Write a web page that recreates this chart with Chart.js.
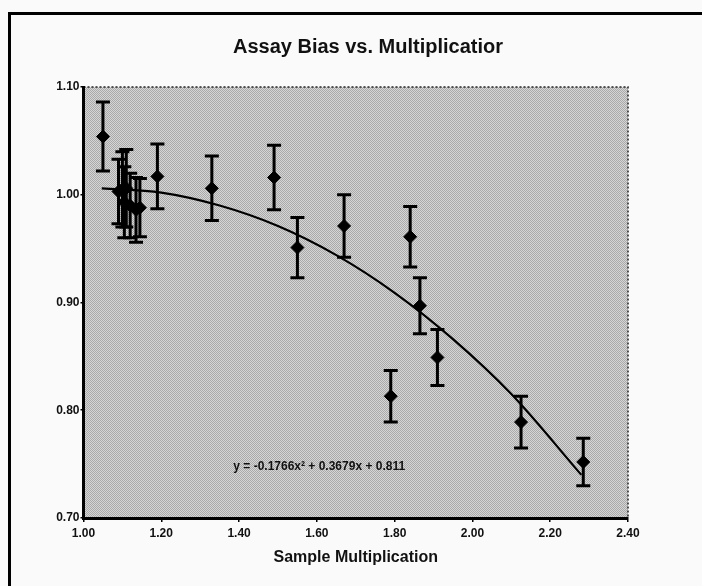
<!DOCTYPE html>
<html>
<head>
<meta charset="utf-8">
<script src="https://cdn.jsdelivr.net/npm/chart.js@4/dist/chart.umd.min.js"></script>
<style>
  body { margin:0; background:#fafafa; }
  #c { display:block; }
</style>
</head>
<body>
<canvas id="c" width="702" height="586"></canvas>
<script>
// measured points: sample multiplication, assay bias, +/- error
const multX = [1.05, 1.09, 1.10, 1.105, 1.11, 1.12, 1.135, 1.145, 1.19, 1.33, 1.49, 1.55, 1.67, 1.79, 1.84, 1.865, 1.91, 2.125, 2.285];
const biasY = [1.054, 1.003, 1.005, 0.993, 1.006, 0.990, 0.986, 0.988, 1.017, 1.006, 1.016, 0.951, 0.971, 0.813, 0.961, 0.897, 0.849, 0.789, 0.752];
const errY  = [0.032, 0.030, 0.035, 0.033, 0.036, 0.030, 0.030, 0.027, 0.030, 0.030, 0.030, 0.028, 0.029, 0.024, 0.028, 0.026, 0.026, 0.024, 0.022];

// trend line
const fitX = [1.047, 1.20, 1.35, 1.50, 1.65, 1.80, 1.95, 2.10, 2.28];
const fitY = [1.006, 1.002, 0.990, 0.971, 0.944, 0.909, 0.866, 0.815, 0.740];

const titleText = 'Assay Bias vs. Multiplicatior';
const eqText = 'y = -0.1766x\u00b2 + 0.3679x + 0.811';
const EQ_AT = {x: 1.606, y: 0.748};

const FONT = '"Liberation Sans", Arial, sans-serif';

function stipple(ctx){
  const p = document.createElement('canvas'); p.width = 2; p.height = 2;
  const g = p.getContext('2d');
  g.fillStyle = '#d6d6d6'; g.fillRect(0,0,2,2);
  g.fillStyle = '#a9a9a9'; g.fillRect(0,0,1,1); g.fillRect(1,1,1,1);
  return ctx.createPattern(p, 'repeat');
}

const frame = {
  id:'frame',
  beforeDraw(chart){
    const ctx = chart.ctx, a = chart.chartArea;
    ctx.save();
    ctx.fillStyle = '#fafafa';
    ctx.fillRect(0,0,chart.width,chart.height);
    // outer box
    ctx.strokeStyle = '#000'; ctx.lineWidth = 3;
    ctx.strokeRect(9.5, 13.5, 720, 600);
    // plot fill
    ctx.fillStyle = stipple(ctx);
    ctx.fillRect(a.left, a.top, a.right-a.left, a.bottom-a.top);
    // dotted top/right edges
    ctx.strokeStyle = '#222'; ctx.lineWidth = 1.5; ctx.setLineDash([2,2]);
    ctx.beginPath();
    ctx.moveTo(a.left, a.top); ctx.lineTo(a.right, a.top); ctx.lineTo(a.right, a.bottom);
    ctx.stroke();
    ctx.restore();
  },
  beforeDatasetsDraw(chart){
    const ctx = chart.ctx, xs = chart.scales.x, ys = chart.scales.y;
    ctx.save();
    ctx.strokeStyle = '#000'; ctx.lineWidth = 3;
    multX.forEach((mx,i)=>{
      const px = xs.getPixelForValue(mx);
      const top = ys.getPixelForValue(biasY[i]+errY[i]);
      const bot = ys.getPixelForValue(biasY[i]-errY[i]);
      ctx.beginPath();
      ctx.moveTo(px, top); ctx.lineTo(px, bot);
      ctx.moveTo(px-7, top); ctx.lineTo(px+7, top);
      ctx.moveTo(px-7, bot); ctx.lineTo(px+7, bot);
      ctx.stroke();
    });
    ctx.restore();
  },
  afterDraw(chart){
    const ctx = chart.ctx, xs = chart.scales.x, ys = chart.scales.y;
    ctx.save();
    ctx.fillStyle = '#111';
    ctx.textAlign = 'center'; ctx.textBaseline = 'middle';
    ctx.font = 'bold 12px ' + FONT;
    ctx.fillText(eqText, xs.getPixelForValue(EQ_AT.x), ys.getPixelForValue(EQ_AT.y));
    // chart title, sits a little right of the plot centre as in the scan
    ctx.font = 'bold 20px ' + FONT;
    ctx.fillText(titleText, 368, 47);
    ctx.restore();
  }
};

new Chart(document.getElementById('c'), {
  type:'scatter',
  data:{
    datasets:[
      {
        label:'Bias',
        data: multX.map((x,i)=>({x, y:biasY[i]})),
        pointStyle:'rectRot', pointRadius:6.5, pointHoverRadius:6.5,
        backgroundColor:'#000', borderColor:'#000', borderWidth:1,
        order:0
      },
      {
        label:'Fit',
        type:'line',
        data: fitX.map((x,i)=>({x, y:fitY[i]})),
        borderColor:'#000', borderWidth:2.2, pointRadius:0,
        cubicInterpolationMode:'monotone', fill:false,
        order:1
      }
    ]
  },
  options:{
    responsive:false,
    animation:false,
    devicePixelRatio:1,
    layout:{ padding:{ left:0, right:74, top:87, bottom:0 } },
    plugins:{
      legend:{ display:false },
      tooltip:{ enabled:false },
      title:{ display:false }
    },
    scales:{
      x:{
        type:'linear', min:1.0, max:2.4,
        afterFit(s){ s.height = 68; },
        ticks:{ stepSize:0.2, color:'#111', padding:4,
          font:{ family:FONT, size:12, weight:'bold' },
          callback:v=>v.toFixed(2) },
        grid:{ drawOnChartArea:false, color:'#000', lineWidth:1.5, tickLength:4 },
        border:{ color:'#000', width:3 },
        title:{ display:true, text:'Sample Multiplication', color:'#111',
          font:{ family:FONT, size:16, weight:'bold', lineHeight:1.2 },
          padding:{ top:0, bottom:19 } }
      },
      y:{
        type:'linear', min:0.7, max:1.1,
        afterFit(s){ s.width = 83.5; },
        ticks:{ stepSize:0.1, color:'#111', padding:1,
          font:{ family:FONT, size:12, weight:'bold' },
          callback:v=>v.toFixed(2) },
        grid:{ drawOnChartArea:false, color:'#000', lineWidth:1.5, tickLength:3 },
        border:{ color:'#000', width:3 }
      }
    }
  },
  plugins:[frame]
});
</script>
</body>
</html>
